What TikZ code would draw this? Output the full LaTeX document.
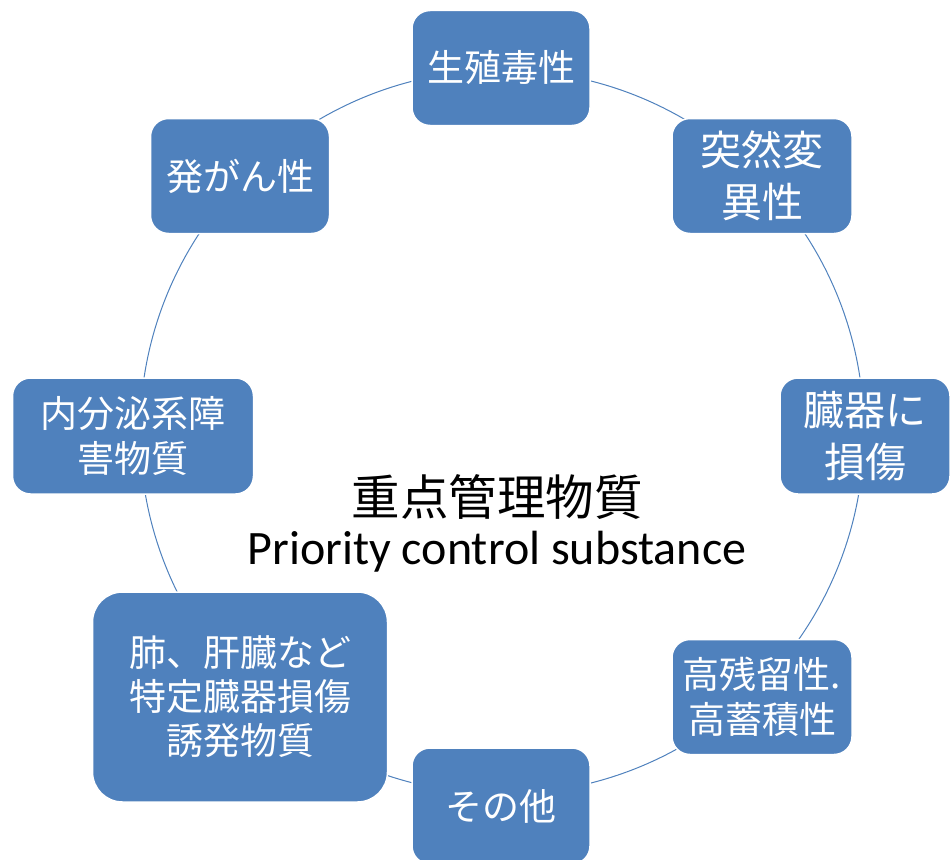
\documentclass[tikz,border=0pt]{standalone}
\usepackage{fontspec}
\setmainfont{Carlito}
\newfontfamily\jp{Noto Sans CJK JP}
\definecolor{boxblue}{HTML}{4F81BD}
\begin{document}
\begin{tikzpicture}[x=1pt,y=-1pt,
  item/.style={draw=white, line width=1.5pt, fill=boxblue, rounded corners=18pt,
    text=white, align=center, inner sep=0pt, font=\jp\fontsize{37}{45}\selectfont},
  bigtext/.style={font=\jp\fontsize{41}{52}\selectfont}]
\useasboundingbox (0,0) rectangle (952,859);
\node[draw=boxblue, line width=1pt, circle, minimum size=724pt, inner sep=0pt] (ring) at (502,432) {};
\node[item, minimum width=178pt, minimum height=115pt] (b1) at (501,68) {生殖毒性};
\node[item, bigtext, minimum width=180pt, minimum height=115pt] (b2) at (762,176) {突然変\\異性};
\node[item, bigtext, minimum width=170pt, minimum height=116pt] (b3) at (865,436) {臓器に\\損傷};
\node[item, minimum width=180pt, minimum height=115pt] (b4) at (762,697) {高残留性.\\高蓄積性};
\node[item, minimum width=178pt, minimum height=116pt] (b5) at (501,806) {その他};
\node[item, rounded corners=30pt, minimum width=295pt, minimum height=210pt, font=\jp\fontsize{37}{44}\selectfont] (b6) at (240,697) {肺、肝臓など\\特定臓器損傷\\誘発物質};
\node[item, minimum width=241pt, minimum height=116pt] (b7) at (133,436) {内分泌系障\\害物質};
\node[item, minimum width=179pt, minimum height=115pt] (b8) at (240,176) {発がん性};
\node[font=\jp\fontsize{48.5}{52}\selectfont, inner sep=0pt] (title) at (497,497) {重点管理物質};
\node[font=\fontsize{48}{52}\selectfont, inner sep=0pt] (sub) at (497,552) {Priority control substance};
\end{tikzpicture}
\end{document}
